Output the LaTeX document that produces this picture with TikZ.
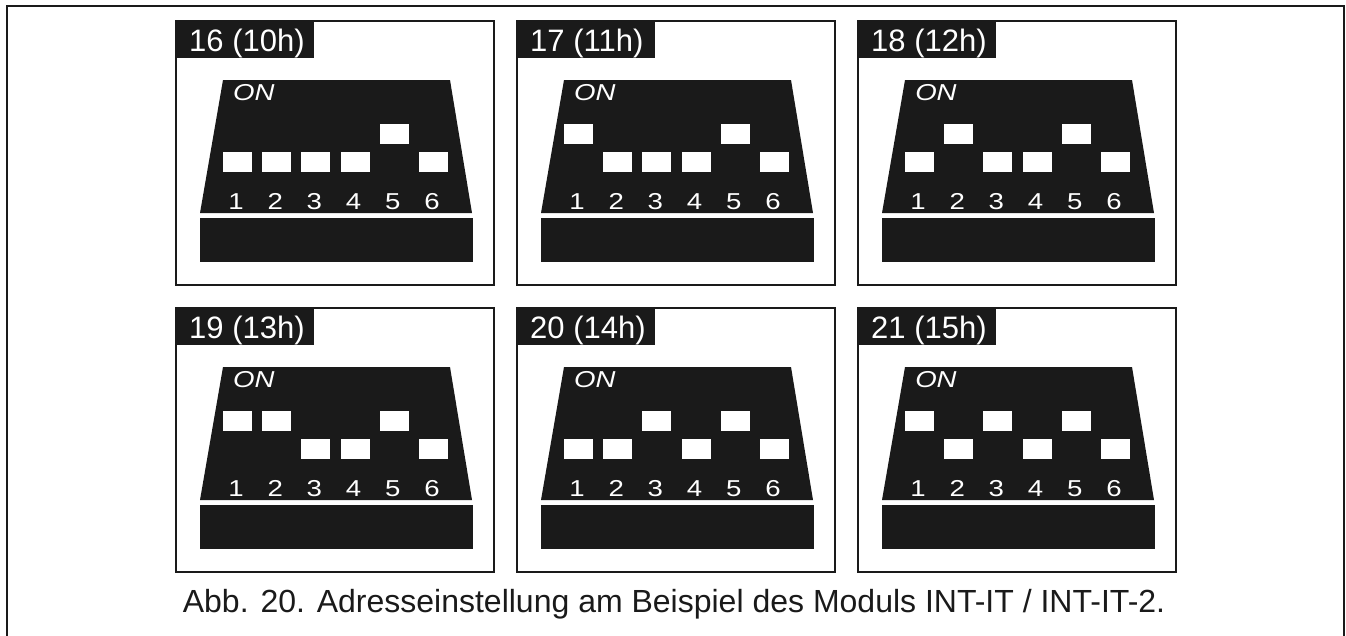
\documentclass[tikz,border=0pt]{standalone}
\usepackage{fontspec}
\setmainfont{Liberation Sans}
\usepackage{tikz}
\usetikzlibrary{calc}

\definecolor{ink}{HTML}{1A1A1A}

\tikzset{
  panel/.style={draw=ink, line width=2pt},
  tag/.style={anchor=base west, inner sep=0pt, text=white, font=\fontsize{31}{31}\selectfont},
  ontext/.style={anchor=base west, inner sep=0pt, text=white, xscale=1.2, transform shape,
    font=\fontsize{23}{23}\selectfont\itshape},
  digit/.style={anchor=base, inner sep=0pt, text=white, xscale=1.2, transform shape,
    font=\fontsize{23}{23}\selectfont},
  caption/.style={anchor=base, inner sep=0pt, text=ink, font=\fontsize{32}{32}\selectfont}
}

\begin{document}
\begin{tikzpicture}[x=1pt,y=-1pt]

\useasboundingbox (0,0) rectangle (1346,635);

% Outer frame
\draw[ink,line width=2pt] (7,660) -- (7,6) -- (1344,6) -- (1344,660);

% Panels: address / hex / position
\foreach \n/\h/\px/\py in {16/10/176/21, 17/11/517/21, 18/12/858/21,
                           19/13/176/308, 20/14/517/308, 21/15/858/308}{
  \begin{scope}[shift={(\px,\py)}]
    % Frame and tag
    \draw[panel] (0,0) rectangle (318,264);
    \fill[ink] (0,0) rectangle (138,37);
    \node[tag] (tag\n) at (13,30) {\n\ (\h h)};

    % Switch body
    \fill[ink] (47,59) -- (274,59) -- (296,192) -- (24,192) -- cycle;
    \fill[ink] (24,197) rectangle (297,241);
    \node[ontext] (on\n) at (57,79) {ON};

    % Switches
    \foreach \i in {1,...,6}{
      \pgfmathtruncatemacro{\bit}{mod(floor(\n/2^(\i-1)),2)}
      \pgfmathsetmacro{\sx}{47+39.2*(\i-1)}
      \pgfmathsetmacro{\sy}{131-28*\bit}
      \fill[white] (\sx,\sy) rectangle ++(29,20);
      \node[digit] (d\n-\i) at (\sx+13,188) {\i};
    }
  \end{scope}
}

% Caption
\node[caption] (cap) at (674,612)
  {Abb. 20. Adresseinstellung am Beispiel des Moduls INT-IT / INT-IT-2.};

\end{tikzpicture}
\end{document}
